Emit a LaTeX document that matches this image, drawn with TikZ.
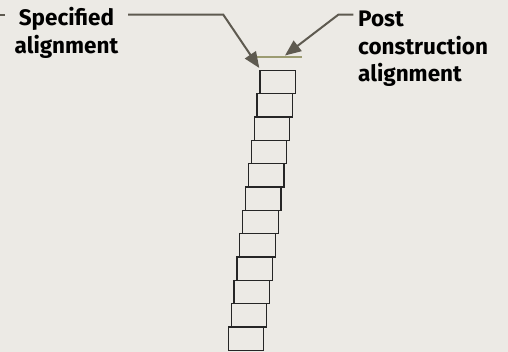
\documentclass[tikz,border=0pt]{standalone}
\usepackage{fontspec}
\setmainfont{Fira Sans}
\usetikzlibrary{arrows.meta}
\definecolor{bg}{HTML}{ECEAE5}
\definecolor{arrowc}{HTML}{5E5A50}
\definecolor{olive}{HTML}{9C9C72}
\begin{document}
\begin{tikzpicture}[x=1pt,y=-1pt,
  lbl/.style={font=\bfseries\fontsize{22.5}{27.5}\selectfont, inner sep=0pt},
  pile/.style={draw=black!85, line width=1.2pt, fill=bg, minimum width=35.5pt, minimum height=23.3pt, inner sep=0pt, anchor=north west},
  arr/.style={draw=arrowc, line width=2pt, -{Triangle[length=16pt,width=13pt]}},
  lead/.style={draw=arrowc, line width=2pt}]
\fill[bg] (0,0) rectangle (508,352);
\useasboundingbox (0,0) rectangle (508,352);
% piles
\foreach \i in {1,...,12}{
  \node[pile] (b\i) at ({259.3-2.87*(\i-1)},{69.7+23.33*(\i-1)}) {};
}
% post construction alignment line
\coordinate (g1) at (257.3,57.3);
\coordinate (g2) at (302.3,57.3);
\draw[olive, line width=2.2pt] (g1) -- (g2);
% labels (base anchor = baseline of last line)
\node[lbl, align=center, anchor=base] (t1) at (66.5,53.5) {Specified\\alignment};
\node[lbl, align=left, anchor=base west] (t2) at (358,81.7) {Post\\construction\\alignment};
% arrows
\coordinate (a1s) at (128,14.7);
\coordinate (a1c) at (223.3,14.7);
\coordinate (a1t) at (259.3,68);
\draw[arr] (a1s) -- (a1c) -- (a1t);
\coordinate (a2s) at (353.3,14.7);
\coordinate (a2c) at (338.3,14.7);
\coordinate (a2t) at (285,55.5);
\draw[arr] (a2s) -- (a2c) -- (a2t);
\coordinate (l0) at (0,14.7);
\coordinate (l1) at (5,14.7);
\draw[lead] (l0) -- (l1);
\end{tikzpicture}
\end{document}
